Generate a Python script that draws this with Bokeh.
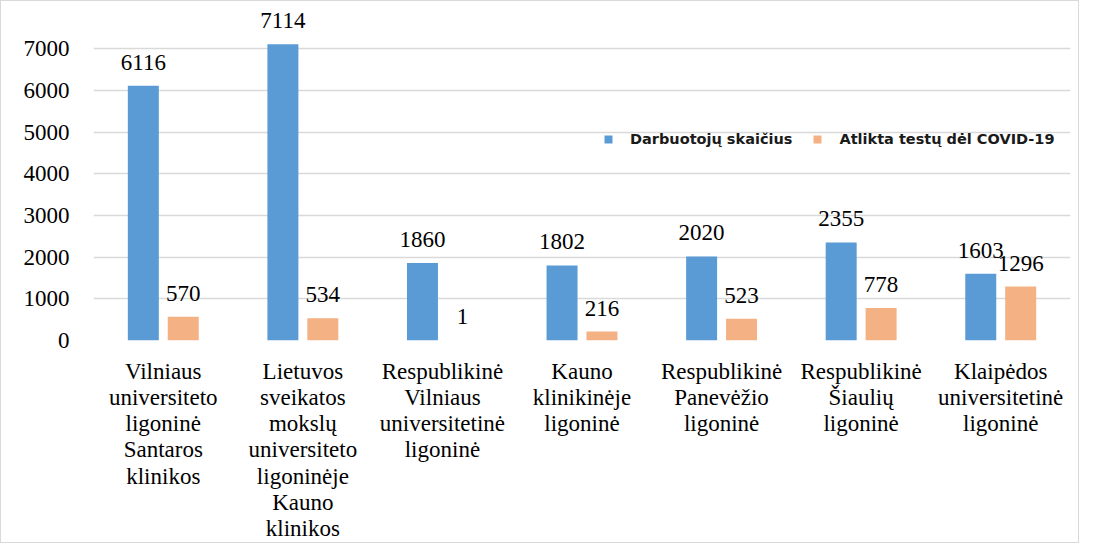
from bokeh.plotting import figure
from bokeh.models import ColumnDataSource, FactorRange, Range1d, LabelSet, Legend, LegendItem
from bokeh.transform import dodge
from bokeh.core.properties import value
from bokeh.embed import file_html
from bokeh.resources import INLINE

categories = [
    "Vilniaus\nuniversiteto\nligoninė\nSantaros\nklinikos",
    "Lietuvos\nsveikatos\nmokslų\nuniversiteto\nligoninėje\nKauno\nklinikos",
    "Respublikinė\nVilniaus\nuniversitetinė\nligoninė",
    "Kauno\nklinikinėje\nligoninė",
    "Respublikinė\nPanevėžio\nligoninė",
    "Respublikinė\nŠiaulių\nligoninė",
    "Klaipėdos\nuniversitetinė\nligoninė",
]
darbuotoju = [6116, 7114, 1860, 1802, 2020, 2355, 1603]
testu = [570, 534, 1, 216, 523, 778, 1296]
series_names = ["Darbuotojų skaičius", "Atlikta testų dėl COVID-19"]
y_ticks = [0, 1000, 2000, 3000, 4000, 5000, 6000, 7000]

BLUE = "#5b9bd5"
ORANGE = "#f4b183"
SERIF = "Liberation Serif"

src = ColumnDataSource(dict(
    cat=categories,
    d=darbuotoju,
    t=testu,
    dl=[str(v) for v in darbuotoju],
    tl=[str(v) for v in testu],
))

p = figure(
    x_range=FactorRange(*categories, range_padding=0),
    y_range=Range1d(0, 7900),
    width=1079, height=543,
    output_backend="svg", toolbar_location=None,
    min_border_left=92, min_border_right=10, min_border_top=10, min_border_bottom=202,
    styles={"border": "1px solid #d9d9d9"},
)
p.outline_line_color = None
p.background_fill_color = "white"
p.border_fill_color = "white"

OFF = 0.143
W = 0.222
rb = p.vbar(x=dodge("cat", -OFF, range=p.x_range), top="d", width=W, source=src,
            fill_color=BLUE, line_color=None)
ro = p.vbar(x=dodge("cat", OFF, range=p.x_range), top="t", width=W, source=src,
            fill_color=ORANGE, line_color=None)

for col, off, ycol in (("dl", -OFF, "d"), ("tl", OFF, "t")):
    lab = LabelSet(x=dodge("cat", off, range=p.x_range), y=ycol, text=col, source=src,
                   text_font=value(SERIF), text_font_size=value("23px"),
                   text_align="center", text_baseline="alphabetic",
                   y_offset=16, text_color="black")
    p.add_layout(lab)

p.xgrid.grid_line_color = None
p.ygrid.grid_line_color = "#d9d9d9"
p.ygrid.grid_line_width = 1.5
p.yaxis.ticker = y_ticks
p.yaxis.axis_line_color = None
p.yaxis.major_tick_line_color = None
p.yaxis.minor_tick_line_color = None
p.yaxis.major_label_standoff = 18
p.yaxis.major_label_text_font = SERIF
p.yaxis.major_label_text_font_size = "23px"
p.yaxis.major_label_text_color = "black"

p.xaxis.axis_line_color = None
p.xaxis.major_tick_line_color = None
p.xaxis.major_label_standoff = 12
p.xaxis.major_label_text_font = SERIF
p.xaxis.major_label_text_font_size = "23px"
p.xaxis.major_label_text_line_height = 1.05
p.xaxis.major_label_text_color = "black"
p.xaxis.major_label_orientation = "horizontal"

legend = Legend(
    items=[LegendItem(label=series_names[0], renderers=[rb]),
           LegendItem(label=series_names[1], renderers=[ro])],
    location=(510, 193), orientation="horizontal",
    glyph_width=10, glyph_height=10, label_standoff=17, spacing=20,
    padding=0, margin=0, border_line_color=None, background_fill_alpha=0,
    label_text_font="DejaVu Sans", label_text_font_style="bold",
    label_text_font_size="14.5px", label_text_color="#1a1a1a",
)
p.add_layout(legend)

open("out.html", "w").write(file_html(p, INLINE))
